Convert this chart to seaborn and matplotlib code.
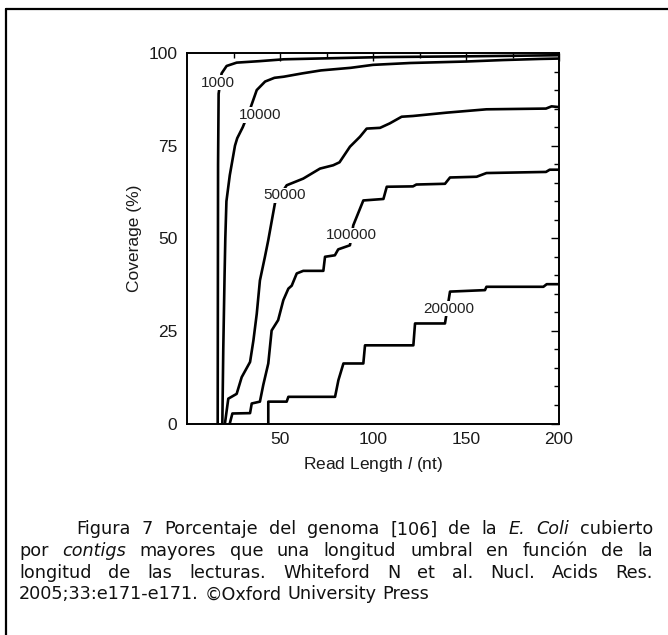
import numpy as np
import pandas as pd
import seaborn as sns
import matplotlib
matplotlib.use("Agg")
import matplotlib.pyplot as plt
from matplotlib.lines import Line2D

# ---------------- data ----------------
x_1000 = [16.5, 16.7, 17.0, 18.6, 21.3, 26.7, 39.0, 52.0, 105.0, 150.0, 200.0]
y_1000 = [0.0, 70.0, 89.0, 94.5, 96.5, 97.4, 97.8, 98.3, 98.9, 99.1, 99.4]

x_10000 = [19.0, 19.5, 20.2, 20.6, 21.2, 23.0, 25.8, 27.0, 30.0, 34.0, 37.5, 42.0,
           47.0, 52.0, 62.0, 72.0, 88.0, 100.0, 120.0, 150.0, 170.0, 190.0, 200.0]
y_10000 = [0.0, 20.0, 40.0, 50.0, 60.0, 67.0, 75.0, 77.0, 80.0, 85.0, 90.0, 92.3,
           93.3, 93.6, 94.5, 95.3, 96.0, 96.8, 97.3, 97.7, 98.1, 98.4, 98.5]

x_50000 = [20.4, 22.2, 26.7, 29.4, 33.9, 35.7, 37.5, 39.2, 41.9, 43.7, 47.3, 53.6,
           62.5, 71.5, 78.6, 82.0, 87.6, 93.0, 96.6, 103.8, 109.0, 115.4, 121.5,
           139.6, 161.0, 193.0, 196.0, 200.0]
y_50000 = [0.0, 6.7, 8.0, 12.5, 16.6, 22.4, 29.6, 38.6, 45.0, 49.5, 59.5, 64.3,
           66.1, 68.8, 69.7, 70.5, 74.7, 77.4, 79.6, 79.8, 81.0, 82.8, 83.0,
           83.9, 84.8, 85.0, 85.6, 85.4]

x_100000 = [23.0, 24.4, 33.9, 34.8, 39.2, 41.0, 43.7, 45.5, 49.0, 51.8, 54.5, 56.3,
            59.0, 62.5, 73.3, 74.2, 79.5, 81.3, 87.6, 89.4, 94.8, 105.6, 107.4,
            121.5, 123.3, 138.7, 141.4, 155.7, 161.0, 193.0, 195.0, 200.0]
y_100000 = [0.0, 2.7, 2.8, 5.4, 5.9, 10.4, 16.2, 25.1, 27.9, 33.3, 36.4, 37.2,
            40.5, 41.2, 41.2, 45.0, 45.4, 47.0, 48.1, 53.5, 60.2, 60.6, 63.9,
            64.0, 64.5, 64.7, 66.4, 66.6, 67.6, 67.9, 68.5, 68.5]

x_200000 = [43.7, 43.7, 53.6, 54.5, 79.6, 81.4, 84.1, 94.8, 95.7, 121.7, 122.6,
            138.7, 141.4, 160.2, 161.0, 191.6, 193.4, 200.0]
y_200000 = [0.0, 5.9, 5.9, 7.2, 7.2, 11.7, 16.2, 16.2, 21.1, 21.1, 27.0,
            27.0, 35.6, 36.0, 36.9, 36.9, 37.6, 37.6]

series_names = ["1000", "10000", "50000", "100000", "200000"]
series_x = [x_1000, x_10000, x_50000, x_100000, x_200000]
series_y = [y_1000, y_10000, y_50000, y_100000, y_200000]

# label anchor positions (data coords)
label_x = [16.7, 39.2, 52.7, 88.5, 140.5]
label_y = [92.0, 83.2, 61.6, 50.8, 31.0]

x_major = [50, 100, 150, 200]
x_minor = [25, 75, 125, 175]
y_major = [0, 25, 50, 75, 100]
y_minor = [5, 10, 15, 20, 30, 35, 40, 45, 55, 60, 65, 70, 80, 85, 90, 95]

caption_lines = [
    [("Figura", 0), ("7", 0), ("Porcentaje", 0), ("del", 0), ("genoma", 0), ("[106]", 0),
     ("de", 0), ("la", 0), ("E.", 1), ("Coli", 1), ("cubierto", 0)],
    [("por", 0), ("contigs", 1), ("mayores", 0), ("que", 0), ("una", 0), ("longitud", 0),
     ("umbral", 0), ("en", 0), ("función", 0), ("de", 0), ("la", 0)],
    [("longitud", 0), ("de", 0), ("las", 0), ("lecturas.", 0), ("Whiteford", 0), ("N", 0),
     ("et", 0), ("al.", 0), ("Nucl.", 0), ("Acids", 0), ("Res.", 0)],
    [("2005;33:e171-e171.", 0), ("©Oxford", 0), ("University", 0), ("Press", 0)],
]

# ---------------- figure ----------------
sns.set_style("white")
plt.rcParams["font.family"] = ["Liberation Sans", "DejaVu Sans"]
plt.rcParams["mathtext.fontset"] = "custom"
plt.rcParams["mathtext.it"] = "Liberation Sans:italic"
plt.rcParams["mathtext.rm"] = "Liberation Sans"

W, H = 668, 635
fig = plt.figure(figsize=(W / 100, H / 100), dpi=100)
fig.patch.set_facecolor("white")

ax_l, ax_r, ax_t, ax_b = 187, 559, 53, 423.5
ax = fig.add_axes([ax_l / W, 1 - ax_b / H, (ax_r - ax_l) / W, (ax_b - ax_t) / H])

for name, xs, ys in zip(series_names, series_x, series_y):
    df = pd.DataFrame({"x": xs, "y": ys})
    sns.lineplot(data=df, x="x", y="y", estimator=None, sort=False, color="black",
                 linewidth=1.9, ax=ax, legend=False)

for name, lx, ly in zip(series_names, label_x, label_y):
    ax.text(lx, ly, name, ha="center", va="center", fontsize=11, color="#222222",
            bbox=dict(facecolor="white", edgecolor="none", pad=0.6), zorder=5)

ax.set_xlim(0, 200)
ax.set_ylim(0, 100)
ax.set_xticks(x_major)
ax.set_xticks(x_minor, minor=True)
ax.set_yticks(y_major)
ax.set_yticks(y_minor, minor=True)
ax.tick_params(which="both", direction="in", top=True, right=True, color="black",
               width=1.0, labelsize=12.5, labelcolor="#1a1a1a")
ax.tick_params(which="major", length=6)
ax.tick_params(which="minor", length=3.5)
ax.tick_params(axis="x", pad=6)
ax.tick_params(axis="y", pad=7)
for s in ax.spines.values():
    s.set_visible(True)
    s.set_color("black")
    s.set_linewidth(1.4)

ax.set_xlabel(r"Read Length $\mathit{l}$ (nt)", fontsize=12.5, color="#1a1a1a", va="center")
ax.xaxis.set_label_coords(0.5, (ax_b - 464) / (ax_b - ax_t))
ax.set_ylabel("Coverage (%)", fontsize=12.5, color="#1a1a1a", va="center")
ax.yaxis.set_label_coords((134 - ax_l) / (ax_r - ax_l), 0.5)

# ---------------- border lines (top and left) ----------------
fig.add_artist(Line2D([6 / W, 1.0], [1 - 9 / H, 1 - 9 / H], transform=fig.transFigure,
                      color="black", linewidth=1.6))
fig.add_artist(Line2D([6 / W, 6 / W], [1 - 9 / H, 0.0], transform=fig.transFigure,
                      color="black", linewidth=1.6))

# ---------------- justified caption ----------------
cap_fs = 12.7
cap_family = ["DejaVu Sans"]
baselines = [534.3, 556.0, 577.5, 599.3]
starts = [76.5, 19.0, 19.0, 19.0]
right_edge = 653.0
fig.canvas.draw()
renderer = fig.canvas.get_renderer()

t1 = fig.text(0, 0, "a a", fontsize=cap_fs, family=cap_family)
t2 = fig.text(0, 0, "aa", fontsize=cap_fs, family=cap_family)
space_w = (t1.get_window_extent(renderer=renderer).width
           - t2.get_window_extent(renderer=renderer).width)
t1.remove()
t2.remove()

for li, (words, base, x0) in enumerate(zip(caption_lines, baselines, starts)):
    objs = []
    widths = []
    for w, it in words:
        t = fig.text(0, 1 - base / H, w, fontsize=cap_fs, family=cap_family,
                     style="italic" if it else "normal", color="#111111",
                     ha="left", va="baseline")
        bb = t.get_window_extent(renderer=renderer)
        objs.append(t)
        widths.append(bb.width)
    total = sum(widths)
    if li < len(caption_lines) - 1:
        gap = (right_edge - x0 - total) / (len(words) - 1)
    else:
        gap = space_w
    x = x0
    for t, wd in zip(objs, widths):
        t.set_x(x / W)
        x += wd + gap

fig.savefig("out.png", dpi=100, facecolor="white")
